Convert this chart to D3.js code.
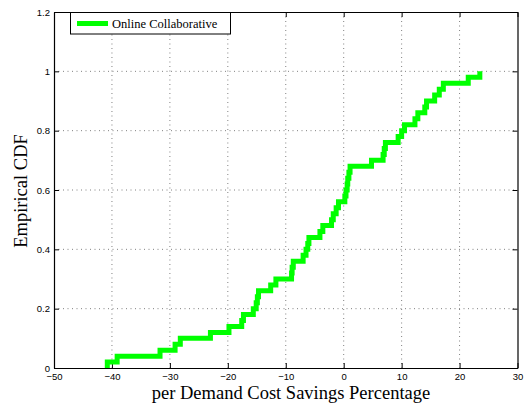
<!DOCTYPE html>
<html><head><meta charset="utf-8">
<script src="https://cdn.jsdelivr.net/npm/d3@7"></script>
<style>
body{margin:0;background:#fff;}
svg{display:block;}
</style></head>
<body>
<svg id="chart" width="527" height="405"></svg>
<script>
// ECDF step positions (sorted sample values) and the CDF level after each step
const stepX = [-40.8,-39.1,-31.7,-29.1,-28.2,-23.0,-19.8,-17.6,-17.3,-15.6,
  -15.1,-14.9,-14.7,-12.6,-11.7,-9.0,-8.9,-8.7,-7.0,-6.5,
  -6.2,-6.0,-4.1,-3.6,-2.1,-1.8,-1.3,-0.9,0.2,0.4,
  0.6,0.7,0.9,1.1,4.8,6.8,7.0,7.2,9.4,10.0,
  10.5,12.3,12.8,14.0,14.3,15.7,16.5,17.2,21.5,23.5];
const cdfY = [0.02,0.04,0.06,0.08,0.10,0.12,0.14,0.16,0.18,0.20,
  0.22,0.24,0.26,0.28,0.30,0.32,0.34,0.36,0.38,0.40,
  0.42,0.44,0.46,0.48,0.50,0.52,0.54,0.56,0.58,0.60,
  0.62,0.64,0.66,0.68,0.70,0.72,0.74,0.76,0.78,0.80,
  0.82,0.84,0.86,0.88,0.90,0.92,0.94,0.96,0.98,1.00];
const xTicks = [-50,-40,-30,-20,-10,0,10,20,30];
const yTicks = [0,0.2,0.4,0.6,0.8,1,1.2];
const seriesName = "Online Collaborative";
const xLabel = "per Demand Cost Savings Percentage";
const yLabel = "Empirical CDF";

const L = 54, R = 517.5, T = 12, B = 368;
const svg = d3.select("#chart");
const x = d3.scaleLinear().domain([-50,30]).range([L,R]);
const y = d3.scaleLinear().domain([0,1.2]).range([B,T]);
const fmt = v => (v < 0 ? "\u2212" + Math.abs(v) : String(v));

// grid
const g = svg.append("g");
g.selectAll("line.gx").data(xTicks.filter(d => d > -50 && d < 30)).join("line")
  .attr("x1", d => x(d)).attr("x2", d => x(d)).attr("y1", T).attr("y2", B)
  .attr("stroke", "#808080").attr("stroke-width", 1).attr("stroke-dasharray", "1,3.5");
g.selectAll("line.gy").data(yTicks.filter(d => d > 0 && d < 1.2)).join("line")
  .attr("y1", d => y(d)).attr("y2", d => y(d)).attr("x1", L).attr("x2", R)
  .attr("stroke", "#808080").attr("stroke-width", 1).attr("stroke-dasharray", "1,3.5");

// axes
const axB = d3.axisBottom(x).tickValues(xTicks).tickSizeInner(-5).tickSizeOuter(0).tickPadding(5).tickFormat(fmt);
const axT = d3.axisTop(x).tickValues(xTicks).tickSizeInner(-5).tickSizeOuter(0).tickFormat("");
const axLf = d3.axisLeft(y).tickValues(yTicks).tickSizeInner(-5).tickSizeOuter(0).tickPadding(4).tickFormat(d => String(d));
const axRt = d3.axisRight(y).tickValues(yTicks).tickSizeInner(-5).tickSizeOuter(0).tickFormat("");
function style(sel){
  sel.selectAll("path").attr("stroke", "#000").attr("stroke-width", 1.2);
  sel.selectAll("line").attr("stroke", "#000").attr("stroke-width", 1);
  sel.selectAll("text").attr("fill", "#000").attr("font-family", "Liberation Sans, Arial, sans-serif").attr("font-size", "9.5px");
}
svg.append("g").attr("transform", `translate(0,${B})`).call(axB).call(style);
svg.append("g").attr("transform", `translate(0,${T})`).call(axT).call(style);
svg.append("g").attr("transform", `translate(${L},0)`).call(axLf).call(style);
svg.append("g").attr("transform", `translate(${R},0)`).call(axRt).call(style);

// ECDF stairs
const pts = [[stepX[0], 0]];
stepX.forEach((v, i) => pts.push([v, cdfY[i]]));
const line = d3.line().x(d => x(d[0])).y(d => y(d[1])).curve(d3.curveStepAfter);
svg.append("path").datum(pts).attr("d", line)
  .attr("fill", "none").attr("stroke", "#00ff00").attr("stroke-width", 5)
  .attr("stroke-linejoin", "miter").attr("stroke-linecap", "butt");

// labels
svg.append("text").attr("x", 291).attr("y", 398.5).attr("text-anchor", "middle")
  .attr("font-family", "Liberation Serif, Times New Roman, serif").attr("font-size", "18.5px").text(xLabel);
svg.append("text").attr("transform", `translate(27,${(T + B) / 2 + 1}) rotate(-90)`).attr("text-anchor", "middle")
  .attr("font-family", "Liberation Serif, Times New Roman, serif").attr("font-size", "18.5px").text(yLabel);

// legend
const lg = svg.append("g");
lg.append("rect").attr("x", 70.5).attr("y", 12.5).attr("width", 160).attr("height", 21.5)
  .attr("fill", "#fff").attr("stroke", "#000").attr("stroke-width", 1);
lg.append("line").attr("x1", 77).attr("x2", 108).attr("y1", 23.5).attr("y2", 23.5)
  .attr("stroke", "#00ff00").attr("stroke-width", 5);
lg.append("text").attr("x", 112).attr("y", 27.5)
  .attr("font-family", "Liberation Serif, Times New Roman, serif").attr("font-size", "12.5px").text(seriesName);
</script>
</body></html>
